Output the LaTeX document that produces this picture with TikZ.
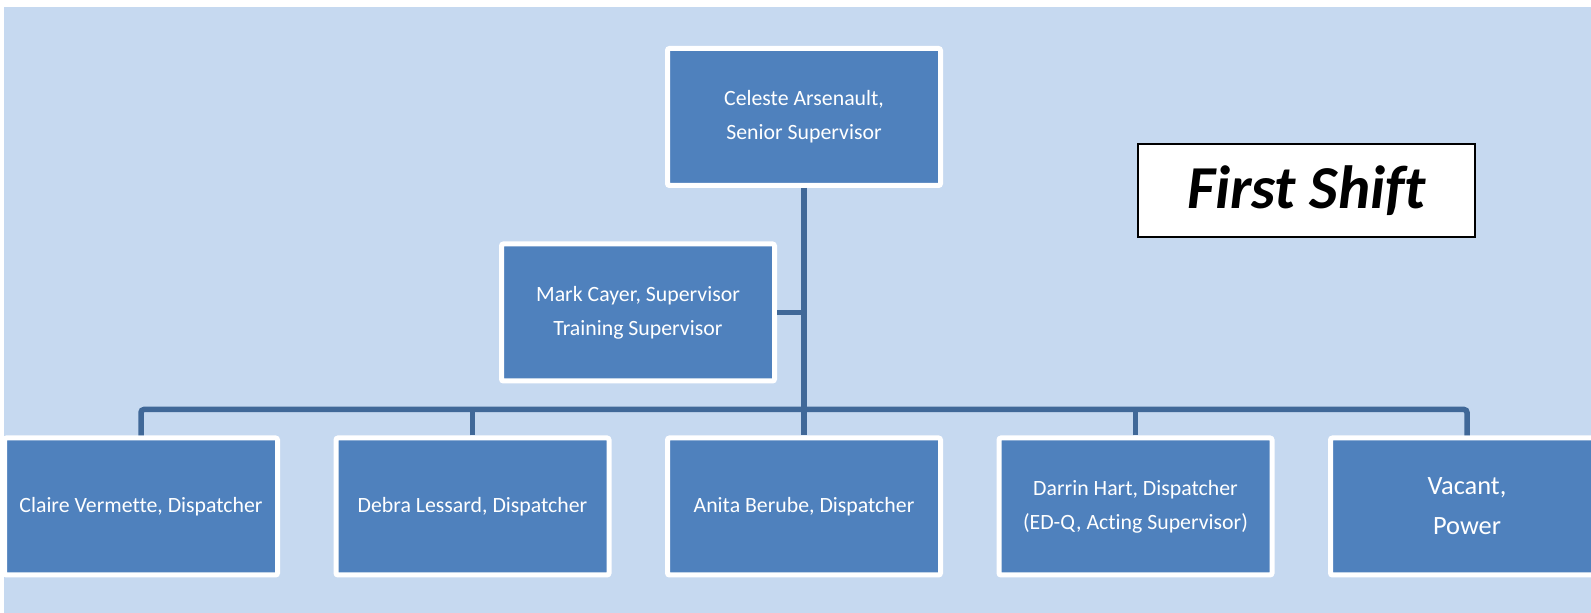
\documentclass[tikz,border=0pt]{standalone}
\usepackage{fontspec}
\setmainfont{Carlito}[Ligatures=NoCommon]
\definecolor{pagebg}{RGB}{198,217,240}
\definecolor{boxfill}{RGB}{79,129,189}
\definecolor{linkblue}{RGB}{64,104,152}

\begin{document}
\begin{tikzpicture}[x=0.5pt,y=0.5pt,yscale=-1,xscale=1,
  person/.style={rectangle, rounded corners=1pt, draw=white, line width=2.5pt, fill=boxfill, text=white, align=center, minimum width=136.5pt, minimum height=68.5pt, inner sep=0pt, font=\fontsize{10.9}{17}\selectfont},
  titlebox/.style={rectangle, draw=black, line width=1pt, fill=white, minimum width=168.5pt, minimum height=46.5pt, inner sep=0pt, font=\fontsize{30.5}{31}\selectfont\bfseries\itshape},
  link/.style={draw=linkblue, line width=2.75pt, rounded corners=1.5pt}]
\clip (0,0) rectangle (1591,613); %set diagram to 1591 x 613

%Shape: Rectangle (page background)
\fill[pagebg] (4,7) rectangle (1591,613);

% Staff Nodes
\node[person] (senior) at (804,117) {Celeste Arsenault,\\Senior Supervisor};
\node[person] (mark) at (638,312.5) {Mark Cayer, Supervisor\\Training Supervisor};
\node[person] (claire) at (141,506.5) {Claire Vermette, Dispatcher};
\node[person] (debra) at (472.5,506.5) {Debra Lessard, Dispatcher};
\node[person] (anita) at (804,506.5) {Anita Berube, Dispatcher};
\node[person] (darrin) at (1135.5,506.5) {Darrin Hart, Dispatcher\\(ED-Q, Acting Supervisor)};
\node[person, font=\fontsize{13.2}{20}\selectfont] (vacant) at (1467,506.5) {Vacant,\\Power};

% Title Node
\node[titlebox] (shift) at (1306.5,190.5) {First Shift};

%Connector Lines
\coordinate (bus) at (804,409.5);
\draw[link] (senior.south) -- (anita.north);
\draw[link] (mark.east) -- (mark.east -| senior.south);
\draw[link] (claire.north) |- (bus) -| (vacant.north);
\draw[link] (debra.north) -- (debra.north |- bus);
\draw[link] (darrin.north) -- (darrin.north |- bus);

\end{tikzpicture}
\end{document}
